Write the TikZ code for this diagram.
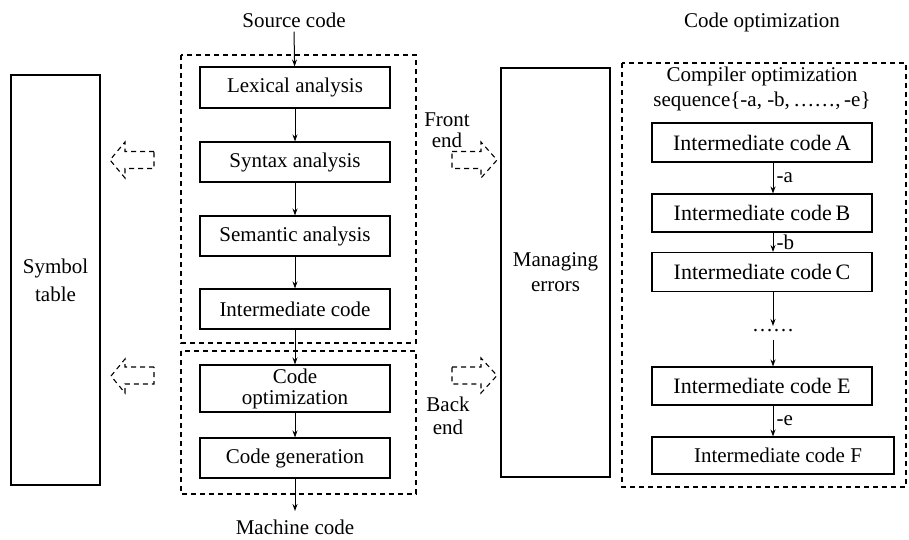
\documentclass[tikz,border=0pt]{standalone}
\usepackage{fontspec}
\setmainfont{Liberation Serif}
\usetikzlibrary{arrows.meta}
\begin{document}
\begin{tikzpicture}[x=1pt,y=-1pt,
  font=\fontsize{21}{25}\selectfont,
  box/.style={draw, line width=1.1pt, inner sep=0pt, align=center},
  dbox/.style={draw, dash pattern=on 5pt off 4pt, line width=1.1pt},
  arr/.style={-{Stealth[length=7pt,width=5pt]}, line width=1pt},
  lbl/.style={inner sep=0pt, align=center},
  rfont/.style={font=\fontsize{22}{25}\selectfont}]
\useasboundingbox (0,0) rectangle (909,539);

% left: symbol table
\node[box, minimum width=89pt, minimum height=410pt] (sym) at (55.5,280) {Symbol\\[3pt]table};

% front end / back end dashed frames
\draw[dbox] (181,55) rectangle (416,343);
\draw[dbox] (181,351) rectangle (416,494);

% phases
\node[lbl] (src) at (294,20) {Source code};
\node[box, minimum width=190pt, minimum height=41pt] (lex) at (295,87.5) {Lexical analysis};
\node[box, minimum width=190pt, minimum height=40pt] (syn) at (295,162) {Syntax analysis};
\node[box, minimum width=190pt, minimum height=40pt] (sem) at (295,236) {Semantic analysis};
\node[box, minimum width=190pt, minimum height=40pt] (ic) at (295,309) {Intermediate code};
\node[box, minimum width=190pt, minimum height=47pt] (co) at (295,388.5) {Code\\[-4pt]optimization};
\node[box, minimum width=190pt, minimum height=40pt] (cg) at (295,458) {Code generation};
\coordinate (mcend) at (295,511);
\node[lbl] (mc) at (295,527) {Machine code};

\draw[arr] ([yshift=-4pt]src.south) -- (lex);
\draw[arr] (lex) -- (syn);
\draw[arr] (syn) -- (sem);
\draw[arr] (sem) -- (ic);
\draw[arr] (ic) -- (co);
\draw[arr] (co) -- (cg);
\draw[arr] (cg) -- (mcend);

% dashed block arrows to the left
\draw[dbox] (154,151.5) -- (125,151.5) -- (125,142) -- (110,160) -- (125,178) -- (125,168.5) -- (154,168.5) -- cycle;
\draw[dbox] (154,367) -- (125,367) -- (125,359) -- (111,376) -- (125,393) -- (125,384) -- (154,384) -- cycle;

% front / back end labels
\node[lbl, font=\fontsize{21}{21}\selectfont] (fe) at (447,130) {Front\\end};
\node[lbl, font=\fontsize{21}{23}\selectfont] (be) at (448,416) {Back\\end};

% dashed block arrows to the right
\draw[dbox] (452,151.5) -- (481,151.5) -- (481,142) -- (497,160) -- (481,178) -- (481,168.5) -- (452,168.5) -- cycle;
\draw[dbox] (452,367) -- (481,367) -- (481,358) -- (497,375.5) -- (481,393) -- (481,384) -- (452,384) -- cycle;

% managing errors
\node[box, minimum width=109pt, minimum height=409pt] (me) at (555.5,272.5) {Managing\\errors};

% right: code optimization
\node[lbl] (cot) at (762,22) {Code optimization};
\draw[dbox] (622,63) rectangle (906,487);
\node[lbl] (seq) at (762,89) {Compiler optimization\\sequence\{-a, -b,\,……,\,-e\}};

\node[box, rfont, minimum width=220pt, minimum height=39pt] (A) at (762,142.5) {Intermediate code\,A};
\node[box, rfont, minimum width=220pt, minimum height=38pt] (B) at (762,213) {Intermediate code\,B};
\node[box, rfont, minimum width=220pt, minimum height=39pt] (C) at (762,272) {Intermediate code\,C};
\node[lbl] (dots) at (773,331) {……};
\node[box, rfont, minimum width=220pt, minimum height=38pt] (E) at (762,386) {Intermediate code E};
\node[box, minimum width=242pt, minimum height=37pt] (F) at (773,455.5) {\hspace*{10pt}Intermediate code F};

\coordinate (dtop) at (773,326);
\coordinate (dbot) at (773,340);

\draw[arr] ([xshift=11pt]A.south) -- ([xshift=11pt]B.north) node[midway, right, lbl, xshift=3pt] {-a};
\draw[arr] ([xshift=11pt]B.south) -- ([xshift=11pt]C.north) node[midway, right, lbl, xshift=3pt] {-b};
\draw[arr] ([xshift=11pt]C.south) -- (dtop);
\draw[arr] (dbot) -- ([xshift=11pt]E.north);
\draw[arr] ([xshift=11pt]E.south) -- (F.north) node[midway, right, lbl, xshift=3pt] {-e};
\end{tikzpicture}
\end{document}
